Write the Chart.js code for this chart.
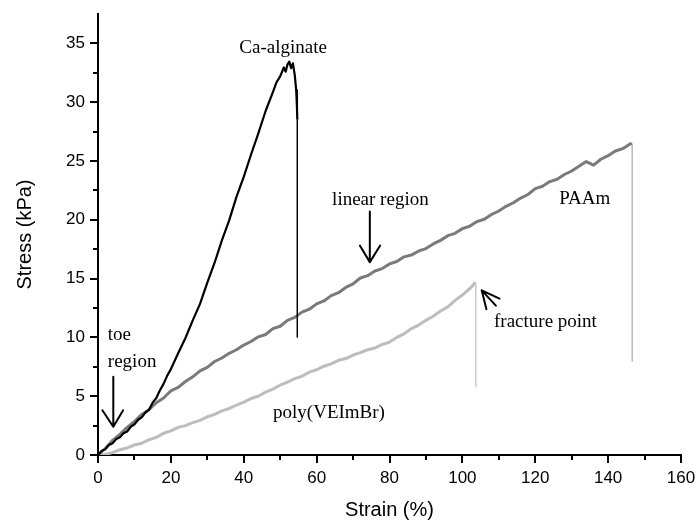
<!DOCTYPE html>
<html>
<head>
<meta charset="utf-8">
<title>Stress-strain curves</title>
<script src="https://cdn.jsdelivr.net/npm/chart.js@4.4.1/dist/chart.umd.min.js"></script>
<style>
  html, body { margin: 0; padding: 0; background: #fff; }
  canvas { display: block; }
</style>
</head>
<body>
<canvas id="stressChart" width="696" height="522"></canvas>
<script>
// values (strain %, stress kPa)
const caStrain = [0, 1, 2, 3, 4, 5, 6, 7, 8, 9, 10, 11, 12, 13, 14, 15, 16, 17, 18, 19, 20,
    22, 24, 26, 28, 30, 32, 34, 36, 38, 40, 42, 44, 46, 48,
    49, 50, 51, 51.5, 52, 52.5, 53, 53.5, 54, 54.4, 54.6, 54.7];
const caStress = [0, 0.35, 0.5, 0.85, 1.0, 1.35, 1.5, 1.85, 2.0, 2.4, 2.6, 3.0, 3.2, 3.6, 3.85, 4.45, 4.85, 5.5, 6.05, 6.75, 7.3,
    8.65, 9.95, 11.45, 12.85, 14.65, 16.35, 18.25, 19.95, 21.95, 23.65, 25.55, 27.35, 29.25, 30.85,
    31.7, 32.2, 32.95, 32.6, 33.2, 33.45, 32.9, 33.3, 32.3, 31.0, 29.6, 28.5];
const caBreakStrain = [54.7, 54.7];
const caBreakStress = [28.5, 10.0];

const paamStrain = [0, 2, 4, 6, 8, 10, 12, 14, 16, 18, 20, 22, 24, 26, 28, 30, 32, 34, 36, 38,
    40, 42, 44, 46, 48, 50, 52, 54, 56, 58, 60, 62, 64, 66, 68, 70, 72, 74, 76, 78,
    80, 82, 84, 86, 88, 90, 92, 94, 96, 98, 100, 102, 104, 106, 108, 110, 112, 114, 116, 118,
    120, 122, 124, 126, 128, 130, 132, 134, 136, 138, 140, 142, 144, 146, 146.5];
const paamStress = [0, 0.55, 1.25, 1.75, 2.35, 2.85, 3.45, 3.85, 4.45, 4.85, 5.45, 5.75, 6.25, 6.65, 7.15, 7.45, 7.95, 8.25, 8.65, 8.95,
    9.35, 9.65, 10.05, 10.25, 10.75, 10.95, 11.45, 11.7, 12.15, 12.4, 12.85, 13.1, 13.55, 13.8, 14.25, 14.55, 15.05, 15.25, 15.65, 15.85,
    16.25, 16.45, 16.85, 17.0, 17.35, 17.55, 17.95, 18.25, 18.65, 18.85, 19.25, 19.45, 19.85, 20.05, 20.45, 20.75, 21.15, 21.45, 21.85, 22.15,
    22.65, 22.85, 23.25, 23.45, 23.85, 24.15, 24.55, 24.95, 24.65, 25.15, 25.45, 25.85, 26.05, 26.45, 26.5];
const paamBreakStrain = [146.6, 146.6];
const paamBreakStress = [26.45, 8.0];

const polyStrain = [0, 2, 4, 6, 8, 10, 12, 14, 16, 18, 20, 22, 24, 26, 28, 30, 32, 34, 36, 38,
    40, 42, 44, 46, 48, 50, 52, 54, 56, 58, 60, 62, 64, 66, 68, 70, 72, 74, 76, 78,
    80, 82, 84, 86, 88, 90, 92, 94, 96, 98, 100, 102, 103, 103.5];
const polyStress = [0, 0.05, 0.2, 0.45, 0.6, 0.85, 1.0, 1.3, 1.5, 1.85, 2.05, 2.35, 2.5, 2.75, 2.95, 3.25, 3.45, 3.75, 3.95, 4.25,
    4.5, 4.8, 5.0, 5.35, 5.6, 5.95, 6.2, 6.5, 6.7, 7.05, 7.25, 7.55, 7.75, 8.05, 8.2, 8.5, 8.7, 8.95, 9.1, 9.4,
    9.6, 10.0, 10.3, 10.75, 11.05, 11.45, 11.8, 12.25, 12.6, 13.15, 13.6, 14.15, 14.45, 14.7];
const polyBreakStrain = [103.7, 103.7];
const polyBreakStress = [14.6, 5.8];

const xTicks = [0, 20, 40, 60, 80, 100, 120, 140, 160];
const yTicks = [0, 5, 10, 15, 20, 25, 30, 35];

// text labels and arrows, placed in data units
const labels = [
    { text: 'Ca-alginate', x: 50.8, y: 34.6, align: 'center' },
    { text: 'linear region', x: 77.5, y: 21.7, align: 'center' },
    { text: 'PAAm', x: 133.6, y: 21.8, align: 'center' },
    { text: 'fracture point', x: 122.8, y: 11.3, align: 'center' },
    { text: 'toe', x: 2.7, y: 10.2, align: 'left' },
    { text: 'region', x: 2.7, y: 7.9, align: 'left' },
    { text: 'poly(VEImBr)', x: 63.4, y: 3.6, align: 'center' }
];
const arrows = [
    { tail: [74.6, 20.7], tip: [74.6, 16.4], arms: [[71.9, 17.8], [77.4, 17.8]] },
    { tail: [4.2, 6.65], tip: [4.2, 2.4], arms: [[1.2, 3.8], [6.9, 3.8]] },
    { tail: [109.2, 12.7], tip: [105.3, 14.0], arms: [[110.2, 13.3], [106.6, 12.4]] }
];

function points(xs, ys) {
    return xs.map((x, i) => ({ x: x, y: ys[i] }));
}

function noEdgePadding(s) {
    s.paddingLeft = 0;
    s.paddingRight = 0;
    s.paddingTop = 0;
    s.paddingBottom = 0;
}

const tickMarks = {
    id: 'tickMarks',
    afterDraw(chart) {
        const ctx = chart.ctx;
        const xs = chart.scales.x;
        const ys = chart.scales.y;
        ctx.save();
        ctx.strokeStyle = '#000';
        ctx.lineWidth = 2;
        xs.ticks.forEach(t => {
            const px = Math.round(xs.getPixelForValue(t.value));
            const len = xTicks.includes(t.value) ? 8 : 5;
            ctx.beginPath();
            ctx.moveTo(px, ys.bottom);
            ctx.lineTo(px, ys.bottom + len);
            ctx.stroke();
        });
        ys.ticks.forEach(t => {
            if (t.value > 35) return;
            const py = Math.round(ys.getPixelForValue(t.value));
            const len = yTicks.includes(t.value) ? 8 : 5;
            ctx.beginPath();
            ctx.moveTo(xs.left - len, py);
            ctx.lineTo(xs.left, py);
            ctx.stroke();
        });
        ctx.restore();
    }
};

const notes = {
    id: 'notes',
    afterDatasetsDraw(chart) {
        const ctx = chart.ctx;
        const xs = chart.scales.x;
        const ys = chart.scales.y;
        const px = p => [xs.getPixelForValue(p[0]), ys.getPixelForValue(p[1])];
        ctx.save();
        ctx.fillStyle = '#000';
        ctx.font = '19px "Liberation Serif", "Times New Roman", serif';
        ctx.textBaseline = 'middle';
        labels.forEach(l => {
            ctx.textAlign = l.align;
            ctx.fillText(l.text, xs.getPixelForValue(l.x), ys.getPixelForValue(l.y));
        });
        ctx.strokeStyle = '#000';
        ctx.lineWidth = 2;
        ctx.lineCap = 'round';
        arrows.forEach(a => {
            const tip = px(a.tip);
            const tail = px(a.tail);
            ctx.beginPath();
            ctx.moveTo(tail[0], tail[1]);
            ctx.lineTo(tip[0], tip[1]);
            a.arms.forEach(arm => {
                const p = px(arm);
                ctx.moveTo(p[0], p[1]);
                ctx.lineTo(tip[0], tip[1]);
            });
            ctx.stroke();
        });
        ctx.restore();
    }
};

const lineStyle = { pointRadius: 0, tension: 0, borderJoinStyle: 'round', fill: false };

new Chart(document.getElementById('stressChart'), {
    type: 'line',
    data: {
        datasets: [
            Object.assign({ label: 'Ca-alginate', data: points(caStrain, caStress), borderColor: '#000', borderWidth: 2.2 }, lineStyle),
            Object.assign({ label: 'Ca break', data: points(caBreakStrain, caBreakStress), borderColor: '#000', borderWidth: 1 }, lineStyle),
            Object.assign({ label: 'PAAm', data: points(paamStrain, paamStress), borderColor: '#7a7a7a', borderWidth: 3 }, lineStyle),
            Object.assign({ label: 'PAAm break', data: points(paamBreakStrain, paamBreakStress), borderColor: '#a8a8a8', borderWidth: 1.2 }, lineStyle),
            Object.assign({ label: 'poly(VEImBr)', data: points(polyStrain, polyStress), borderColor: '#bdbdbd', borderWidth: 3 }, lineStyle),
            Object.assign({ label: 'poly break', data: points(polyBreakStrain, polyBreakStress), borderColor: '#bdbdbd', borderWidth: 1.2 }, lineStyle)
        ]
    },
    options: {
        responsive: false,
        animation: false,
        devicePixelRatio: 1,
        layout: { padding: { top: 14, right: 15, left: 0, bottom: 0 } },
        plugins: {
            legend: { display: false },
            tooltip: { enabled: false }
        },
        scales: {
            x: {
                type: 'linear',
                min: 0,
                max: 160,
                afterFit: s => { s.height = 67; noEdgePadding(s); },
                grid: { display: false, drawTicks: false },
                border: { display: true, color: '#000', width: 2 },
                ticks: {
                    stepSize: 10,
                    padding: 13,
                    color: '#000',
                    font: { family: '"Liberation Sans", Arial, sans-serif', size: 17 },
                    maxRotation: 0,
                    autoSkip: false,
                    callback: v => xTicks.includes(v) ? v : ''
                },
                title: {
                    display: true,
                    text: 'Strain (%)',
                    color: '#000',
                    font: { family: '"Liberation Sans", Arial, sans-serif', size: 20 },
                    padding: { top: 0, bottom: 0 }
                }
            },
            y: {
                type: 'linear',
                min: 0,
                max: 37.5,
                afterFit: s => { s.width = 98; noEdgePadding(s); },
                grid: { display: false, drawTicks: false },
                border: { display: true, color: '#000', width: 2 },
                ticks: {
                    stepSize: 2.5,
                    padding: 13,
                    color: '#000',
                    font: { family: '"Liberation Sans", Arial, sans-serif', size: 17 },
                    autoSkip: false,
                    callback: v => yTicks.includes(v) ? v : ''
                },
                title: {
                    display: true,
                    text: 'Stress (kPa)',
                    color: '#000',
                    font: { family: '"Liberation Sans", Arial, sans-serif', size: 20 },
                    padding: { top: 13, bottom: 0 }
                }
            }
        }
    },
    plugins: [tickMarks, notes]
});
</script>
</body>
</html>
